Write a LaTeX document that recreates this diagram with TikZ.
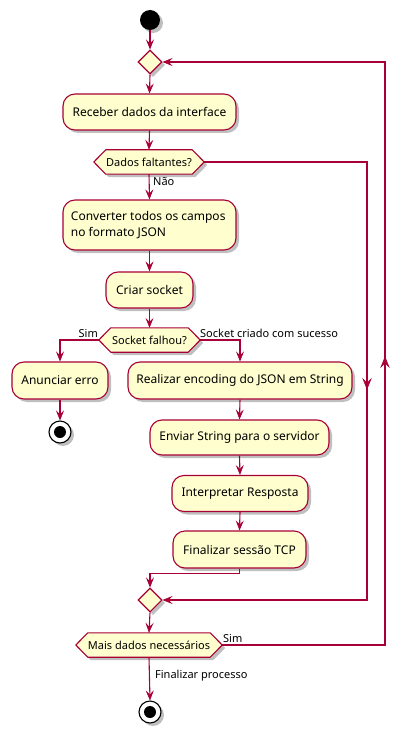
\documentclass[tikz,border=0pt]{standalone}
\usepackage{fontspec}
\setmainfont{Noto Sans}
\usetikzlibrary{arrows.meta,shapes.geometric,shadows}
\definecolor{puline}{HTML}{A80036}
\definecolor{pufill}{HTML}{FEFECE}
\tikzset{
  pushadow/.style={drop shadow={shadow xshift=3pt,shadow yshift=-3pt,opacity=0.25,fill=black}},
  actbox/.style={draw=puline,fill=pufill,line width=1.1pt,rounded corners=12pt,inner sep=0pt,font=\fontsize{12}{16}\selectfont,pushadow},
  hexnode/.style={inner sep=0pt,font=\fontsize{11}{13}\selectfont},
  hexline/.style={draw=puline,fill=pufill,line width=1.1pt,pushadow},
  merge/.style={diamond,draw=puline,fill=pufill,line width=1.1pt,minimum width=24pt,minimum height=24pt,inner sep=0pt,pushadow},
  startnode/.style={circle,fill=black,minimum size=20pt,inner sep=0pt,pushadow},
  stopnode/.style={circle,draw=black,fill=white,line width=1.1pt,minimum size=22pt,inner sep=0pt,pushadow},
  putip/.tip={Stealth[length=10pt,width=8pt,inset=4pt,line width=0.6pt]},
  conn/.style={draw=puline,line width=1.1pt,-putip},
  midtip/.style={fill=puline,draw=puline,line width=0.6pt,line join=miter},
  lbl/.style={font=\fontsize{11}{13}\selectfont,inner sep=0pt,text=black}
}
\newcommand{\hexdraw}[1]{\path[hexline] (#1.west) -- ([xshift=12pt]#1.north west) -- ([xshift=-12pt]#1.north east) -- (#1.east) -- ([xshift=-12pt]#1.south east) -- ([xshift=12pt]#1.south west) -- cycle;}
\begin{document}
\begin{tikzpicture}[x=1pt,y=-1pt]
\useasboundingbox (0,0) rectangle (409,738);
% start and first merge
\node[startnode] (start) at (150,20) {};
\node[merge] (m1) at (150,62) {};
\node[actbox,minimum width=173pt,minimum height=36pt] (b1) at (149.5,112) {Receber dados da interface};
\node[hexnode,minimum width=110pt,minimum height=24pt] (d1) at (149,162) {};
\hexdraw{d1}
\node[hexnode] at (d1) {Dados faltantes?};
\node[actbox,minimum width=173pt,minimum height=50pt,align=left] (b2) at (149.5,225) {Converter todos os campos\\no formato JSON\hspace*{62pt}};
\node[actbox,minimum width=87pt,minimum height=36pt] (b3) at (149.5,290) {Criar socket};
\node[hexnode,minimum width=101pt,minimum height=24pt] (d2) at (149.5,340) {};
\hexdraw{d2}
\node[hexnode] at (d2) {Socket falhou?};
\node[actbox,minimum width=96pt,minimum height=37pt] (b4) at (60,380.5) {Anunciar erro};
\node[stopnode] (stop1) at (60,432) {};
\fill (stop1.center) circle (6pt);
\node[actbox,minimum width=224pt,minimum height=37pt] (b5) at (240,380.5) {Realizar encoding do JSON em String};
\node[actbox,minimum width=179pt,minimum height=35pt] (b6) at (239.5,437.5) {Enviar String para o servidor};
\node[actbox,minimum width=136pt,minimum height=36pt] (b7) at (240,493.5) {Interpretar Resposta};
\node[actbox,minimum width=133pt,minimum height=37pt] (b8) at (239.5,549.5) {Finalizar sessão TCP};
\node[merge] (m2) at (150,600) {};
\node[hexnode,minimum width=146pt,minimum height=24pt] (d3) at (149,645) {};
\hexdraw{d3}
\node[hexnode] at (d3) {Mais dados necessários};
\node[stopnode] (stop2) at (150,712) {};
\fill (stop2.center) circle (6pt);
\coordinate (r1) at (367,389);
\coordinate (r2) at (385,357);
% connectors
\draw[conn] (start) -- (m1.north);
\draw[conn] (m1.south) -- (b1.north);
\draw[conn] (b1.south) -- (d1.north);
\draw[conn] (d1.south) -- (b2.north);
\node[lbl,anchor=west] at (153,182) {Não};
\draw[conn] (b2.south) -- (b3.north);
\draw[conn] (b3.south) -- (d2.north);
\draw[conn] (d2.west) -| (b4.north);
\node[lbl,anchor=south east] at (98,338) {Sim};
\draw[conn] (d2.east) -| (b5.north);
\node[lbl,anchor=south west] at (200,338) {Socket criado com sucesso};
\draw[conn] (b4.south) -- (stop1.north);
\draw[conn] (b5.south) -- (b6.north);
\draw[conn] (b6.south) -- (b7.north);
\draw[conn] (b7.south) -- (b8.north);
\draw[conn] (b8.south) -- ++(0,5) -| (m2.north);
\draw[conn] (d1.east) -| (r1) |- (m2.east);
\fill[midtip] (r1) -- ++(-4,-10) -- ++(4,4) -- ++(4,-4) -- cycle;
\draw[conn] (m2.south) -- (d3.north);
\draw[conn] (d3.east) -| (r2) |- (m1.east);
\fill[midtip] (r2) -- ++(-4,10) -- ++(4,-4) -- ++(4,4) -- cycle;
\node[lbl,anchor=south west] at (223,643) {Sim};
\draw[conn] (d3.south) -- (stop2.north);
\node[lbl,anchor=west] at (155,676) {Finalizar processo};
\end{tikzpicture}
\end{document}
